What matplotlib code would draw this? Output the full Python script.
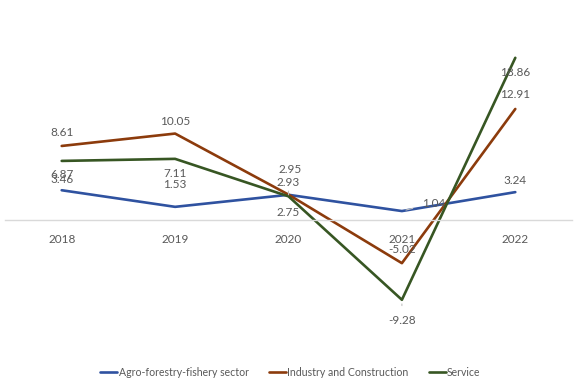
import matplotlib
matplotlib.use('Agg')
import matplotlib.pyplot as plt

years = ['2018', '2019', '2020', '2021', '2022']
agro = [3.46, 1.53, 2.93, 1.04, 3.24]
industry = [8.61, 10.05, 2.95, -5.02, 12.91]
service = [6.87, 7.11, 2.75, -9.28, 18.86]

series_names = ['Agro-forestry-fishery sector', 'Industry and Construction', 'Service']
colors = ['#2F52A0', '#8C3B0C', '#375623']

# label offsets in pixels (dx, dy), dy positive = up
agro_offsets = [(0, 11), (0, 22), (0, 12), (32, 8), (0, 12)]
industry_offsets = [(0, 13), (0, 12), (2, 25), (0, 14), (0, 14)]
service_offsets = [(0, -14), (0, -15), (0, -16), (0, -21), (0, -15)]
leaders = {(0, 2), (0, 3), (2, 3)}

plt.rcParams['font.family'] = ['Lato', 'DejaVu Sans']
text_color = '#595959'

fig = plt.figure(figsize=(5.81, 3.78), dpi=100)
ax = fig.add_axes([5 / 581, 0.145, 567 / 581, 0.7735])

x = list(range(len(years)))
all_series = [agro, industry, service]
all_offsets = [agro_offsets, industry_offsets, service_offsets]

for i, (vals, name, c) in enumerate(zip(all_series, series_names, colors)):
    ax.plot(x, vals, color=c, lw=1.9, label=name, solid_capstyle='round')

for i, (vals, offs) in enumerate(zip(all_series, all_offsets)):
    for j, (v, (dx, dy)) in enumerate(zip(vals, offs)):
        kw = {}
        if (i, j) in leaders:
            kw['arrowprops'] = dict(arrowstyle='-', color='#BFBFBF', lw=0.8,
                                    shrinkA=5, shrinkB=3)
        ax.annotate(f'{v:.2f}', (j, v), xytext=(dx, dy), textcoords='offset pixels',
                    ha='center', va='center', fontsize=8.5, color=text_color, **kw)

ax.set_xlim(-0.5, 4.5)
ax.set_ylim(-12, 22)
ax.set_yticks([])
for s in ['left', 'right', 'top']:
    ax.spines[s].set_visible(False)
ax.spines['bottom'].set_position(('data', 0))
ax.spines['bottom'].set_color('#D9D9D9')
ax.spines['bottom'].set_linewidth(1)
ax.set_xticks(x)
ax.set_xticklabels(years, fontsize=8.5, color=text_color)
ax.tick_params(axis='x', length=0, pad=10)

fig.legend(loc='lower center', bbox_to_anchor=(0.5, -0.025), ncol=3, frameon=False,
           fontsize=7.6, labelcolor=text_color, handlelength=1.6, handletextpad=0.15,
           columnspacing=1.9)

fig.savefig('out.png', dpi=100)
